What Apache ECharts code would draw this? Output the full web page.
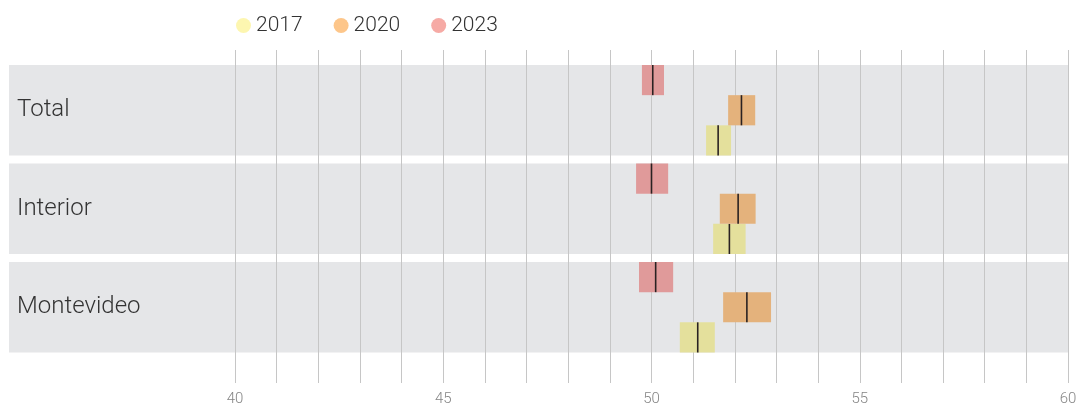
<!DOCTYPE html>
<html>
<head>
<meta charset="utf-8">
<script src="https://cdn.jsdelivr.net/npm/echarts@6/dist/echarts.min.js"></script>
<style>
  html, body { margin: 0; padding: 0; background: #fff; }
  #chart { width: 1080px; height: 409px; }
</style>
</head>
<body>
<div id="chart"></div>
<script>
// Regions (top to bottom)
const categories = ['Total', 'Interior', 'Montevideo'];
const years = ['2017', '2020', '2023'];

// Per-region interval: [low, estimate, high]
const values2017 = [[51.31, 51.60, 51.91], [51.48, 51.87, 52.26], [50.68, 51.11, 51.52]];
const values2020 = [[51.84, 52.16, 52.49], [51.64, 52.08, 52.50], [51.72, 52.29, 52.87]];
const values2023 = [[49.77, 50.03, 50.30], [49.63, 50.00, 50.40], [49.70, 50.10, 50.52]];

const xTicksMin = 40, xTicksMax = 60, xTickStep = 1, xLabelStep = 5;

// Layout of the plot
const W = 1080, H = 409;
const bandLeft = 9, plotLeft = 235, plotRight = 12;
const pxPerUnit = (W - plotRight - plotLeft) / (xTicksMax - xTicksMin);
const bandMin = xTicksMin - (plotLeft - bandLeft) / pxPerUnit;

const legendColors = { '2017': '#fdf6b0', '2020': '#fdc68a', '2023': '#f6aaa5' };
const boxColors = { '2017': '#e4e09c', '2020': '#e4b27c', '2023': '#e09a9a' };
// Slot inside each band, from top
const slot = { '2023': 0, '2020': 1, '2017': 2 };
const bandFill = 0.919;

const chart = echarts.init(document.getElementById('chart'));

function bandItem(params, api) {
  const c = api.coord([bandMin, api.value(0)]);
  const e = api.coord([xTicksMax, api.value(0)]);
  const h = api.size([0, 1])[1] * bandFill;
  return { type: 'rect', shape: { x: c[0], y: c[1] - h / 2, width: e[0] - c[0], height: h },
           style: { fill: '#e5e6e8' } };
}

function boxRenderer(year) {
  return function (params, api) {
    const cat = api.value(0);
    const lo = api.coord([api.value(1), cat]);
    const mid = api.coord([api.value(2), cat]);
    const hi = api.coord([api.value(3), cat]);
    const bandH = api.size([0, 1])[1] * bandFill;
    const boxH = bandH / 3;
    const top = lo[1] - bandH / 2 + slot[year] * boxH;
    return {
      type: 'group',
      children: [
        { type: 'rect', shape: { x: lo[0], y: top, width: hi[0] - lo[0], height: boxH },
          style: { fill: boxColors[year] } },
        { type: 'line', shape: { x1: mid[0], y1: top, x2: mid[0], y2: top + boxH },
          style: { stroke: '#2a2222', lineWidth: 1.6 } }
      ]
    };
  };
}

const seriesData = { '2017': values2017, '2020': values2020, '2023': values2023 };

chart.setOption({
  animation: false,
  textStyle: { fontFamily: 'Roboto, "Noto Sans", sans-serif' },
  legend: {
    data: years,
    left: 231, top: 10,
    icon: 'circle', itemWidth: 15, itemHeight: 15, itemGap: 31,
    textStyle: { fontSize: 21, color: '#333', fontWeight: 300 }
  },
  grid: [
    { left: bandLeft, right: plotRight, top: 61, height: 295.5 },
    { left: plotLeft, right: plotRight, top: 50, bottom: 26 }
  ],
  xAxis: [
    { gridIndex: 0, type: 'value', min: bandMin, max: xTicksMax, show: false },
    { gridIndex: 1, type: 'value', min: xTicksMin, max: xTicksMax, interval: xTickStep, z: 2,
      axisLine: { show: false }, axisTick: { show: false },
      splitLine: { show: true, lineStyle: { color: '#c6c6c6', width: 1 } },
      axisLabel: { margin: 9, fontSize: 15, color: '#858585', fontWeight: 300,
        formatter: v => (v % xLabelStep === 0 ? String(v) : '') } }
  ],
  yAxis: [
    { gridIndex: 0, type: 'category', data: categories, inverse: true, z: 4,
      axisLine: { show: false }, axisTick: { show: false }, splitLine: { show: false },
      axisLabel: { inside: true, margin: 8, fontSize: 24, color: '#333', fontWeight: 300,
        padding: [4, 0, 0, 0] } },
    { gridIndex: 1, type: 'value', min: 0, max: 1, show: false }
  ],
  series: [
    { type: 'custom', name: 'bands', xAxisIndex: 0, yAxisIndex: 0, z: 1, silent: true,
      renderItem: bandItem, data: categories.map((c, i) => [i]), encode: { y: 0 } }
  ].concat(years.map(y => ({
    type: 'custom', name: y, xAxisIndex: 0, yAxisIndex: 0, z: 3,
    itemStyle: { color: legendColors[y] },
    renderItem: boxRenderer(y),
    encode: { x: [1, 2, 3], y: 0 },
    data: seriesData[y].map((v, i) => [i, v[0], v[1], v[2]])
  })))
});
</script>
</body>
</html>
